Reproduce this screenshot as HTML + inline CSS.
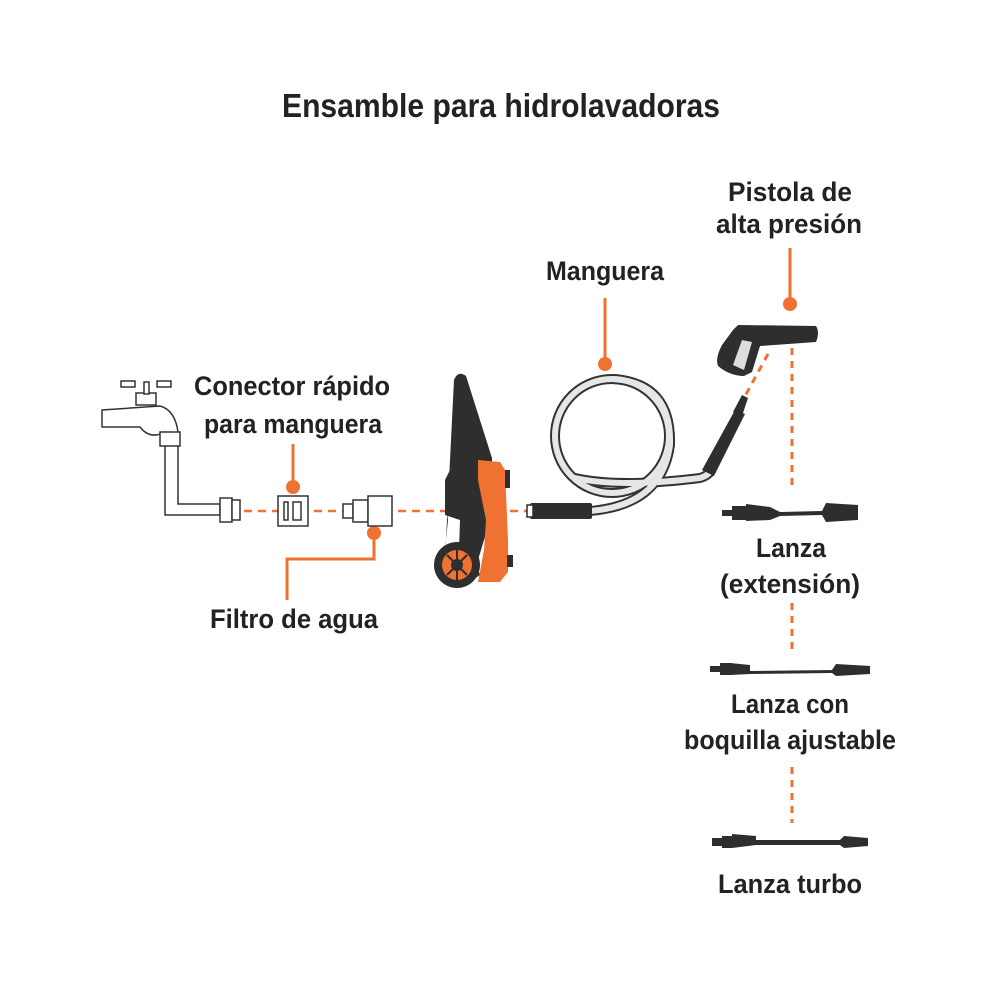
<!DOCTYPE html>
<html><head><meta charset="utf-8"><style>
html,body{margin:0;padding:0;background:#fff}
svg{display:block}
text{font-family:"Liberation Sans",sans-serif;font-weight:bold;fill:#222}
</style></head><body>
<svg width="1000" height="1000" viewBox="0 0 1000 1000" xmlns="http://www.w3.org/2000/svg">
<rect width="1000" height="1000" fill="#fff"/>
<text x="282" y="117" font-size="33" textLength="438" lengthAdjust="spacingAndGlyphs">Ensamble para hidrolavadoras</text>
<g font-size="27" text-anchor="middle">
<text x="790" y="201" textLength="124" lengthAdjust="spacingAndGlyphs">Pistola de</text>
<text x="789" y="233" textLength="146" lengthAdjust="spacingAndGlyphs">alta presión</text>
<text x="605" y="280" textLength="118" lengthAdjust="spacingAndGlyphs">Manguera</text>
<text x="292" y="395" textLength="196" lengthAdjust="spacingAndGlyphs">Conector rápido</text>
<text x="293" y="433" textLength="178" lengthAdjust="spacingAndGlyphs">para manguera</text>
<text x="294" y="628" textLength="168" lengthAdjust="spacingAndGlyphs">Filtro de agua</text>
<text x="791" y="557" textLength="70" lengthAdjust="spacingAndGlyphs">Lanza</text>
<text x="790" y="593" textLength="140" lengthAdjust="spacingAndGlyphs">(extensión)</text>
<text x="790" y="713" textLength="118" lengthAdjust="spacingAndGlyphs">Lanza con</text>
<text x="790" y="749" textLength="212" lengthAdjust="spacingAndGlyphs">boquilla ajustable</text>
<text x="790" y="893" textLength="144" lengthAdjust="spacingAndGlyphs">Lanza turbo</text>
</g>
<g stroke="#f07232" fill="none">
<line x1="244" y1="511" x2="545" y2="511" stroke-width="2.5" stroke-dasharray="8,6"/>
<line x1="792" y1="348" x2="792" y2="487" stroke-width="3" stroke-dasharray="7,6"/>
<line x1="792" y1="603" x2="792" y2="650" stroke-width="3" stroke-dasharray="7,6"/>
<line x1="792" y1="767" x2="792" y2="823" stroke-width="3" stroke-dasharray="7,6"/>
<line x1="768" y1="354" x2="744" y2="398" stroke-width="3" stroke-dasharray="7,6"/>
<line x1="605" y1="298" x2="605" y2="362" stroke-width="3"/>
<line x1="790" y1="248" x2="790" y2="302" stroke-width="3"/>
<line x1="293" y1="444" x2="293" y2="486" stroke-width="3"/>
<polyline points="374,533 374,559 287,559 287,600" stroke-width="3"/>
</g>
<g fill="#f07232">
<circle cx="605" cy="364" r="7"/><circle cx="790" cy="304" r="7"/>
<circle cx="293" cy="487" r="7"/><circle cx="374" cy="533" r="7"/>
</g>
<!-- faucet -->
<g fill="#fff" stroke="#333" stroke-width="1.5">
<path d="M102,410 L102,427 L140,427 Q150,440 165,432 L165,515 L220,515 L220,504 L178,504 L178,432 Q175,410 160,406 L102,410 Z"/>
<rect x="160" y="432" width="20" height="14"/>
<rect x="136" y="393" width="20" height="12"/>
<rect x="144" y="382" width="5" height="12"/>
<rect x="121" y="381" width="14" height="6"/><rect x="157" y="381" width="14" height="6"/>
<rect x="220" y="498" width="12" height="24"/>
<rect x="232" y="500" width="8" height="20"/>
<rect x="278" y="496" width="30" height="30"/>
<rect x="284" y="502" width="4" height="18"/><rect x="293" y="502" width="8" height="18"/>
<rect x="343" y="504" width="10" height="14"/>
<rect x="353" y="500" width="15" height="22"/>
<rect x="368" y="496" width="24" height="30"/>
</g>
<!-- pressure washer -->
<path d="M454,380 Q458,370 466,376 L492,458 L492,470 L480,470 Q470,480 464,470 L452,470 L445,490 L448,520 L445,550 L470,545 L480,575 L465,585 L445,560 Z" fill="#2e2e2e"/>
<path d="M452,466 L486,458 L490,520 L478,560 L470,580 L458,580 L460,520 L445,515 L445,480 Z" fill="#2e2e2e"/>
<path d="M478,460 L500,462 L505,470 L508,540 L508,572 L500,582 L478,582 L484,550 L486,520 L478,480 Z" fill="#f07232"/>
<rect x="505" y="470" width="5" height="18" fill="#2e2e2e"/>
<rect x="507" y="555" width="6" height="12" fill="#2e2e2e"/>
<circle cx="457" cy="565" r="23" fill="#2e2e2e"/>
<circle cx="457" cy="565" r="15" fill="#f07232"/>
<g stroke="#2e2e2e" stroke-width="2"><line x1="447" y1="555" x2="467" y2="575"/><line x1="467" y1="555" x2="447" y2="575"/><line x1="457" y1="550" x2="457" y2="580"/></g>
<circle cx="457" cy="565" r="6" fill="#2e2e2e"/>
<!-- hose -->
<g fill="none" stroke-linecap="round">
<g stroke="#333" stroke-width="10">
<circle cx="612" cy="436" r="57"/>
<path d="M612,379 Q672,382 670,445 Q662,505 590,511"/>
<path d="M575,478 Q620,488 700,478 Q710,475 712,468"/>
</g>
<g stroke="#e6e6e6" stroke-width="6">
<circle cx="612" cy="436" r="57"/>
<path d="M612,379 Q672,382 670,445 Q662,505 590,511"/>
<path d="M575,478 Q620,488 700,478 Q710,475 712,468"/>
</g>
</g>
<rect x="530" y="503" width="62" height="16" rx="2" fill="#2e2e2e"/>
<rect x="527" y="505" width="6" height="12" fill="#fff" stroke="#2e2e2e" stroke-width="1.5"/>
<path d="M702,470 L735,410 L745,414 L714,476 Z" fill="#2e2e2e"/>
<path d="M733,412 L742,395 L748,398 L742,416 Z" fill="#2e2e2e"/>
<!-- gun -->
<path d="M738,325 L816,326 Q820,332 816,342 L760,346 L752,372 L744,376 Q730,376 718,366 Q715,358 722,345 L733,330 Z" fill="#2e2e2e"/>
<path d="M742,340 L752,342 L744,370 L733,365 Z" fill="#ddd"/>
<!-- lanzas -->
<g fill="#2e2e2e">
<rect x="722" y="510" width="10" height="6"/><rect x="732" y="506" width="14" height="14"/>
<path d="M746,504 L770,507 L780,512 L822,511 L826,503 L858,505 L858,520 L826,522 L822,515 L780,516 L770,520 L746,521 Z"/>
<rect x="710" y="666" width="10" height="6"/><rect x="720" y="663" width="12" height="12"/>
<path d="M730,663 L750,665 L750,671 L832,670 L836,664 L870,666 L870,674 L836,676 L832,673 L750,674 L730,675 Z"/>
<rect x="712" y="838" width="10" height="8"/><rect x="722" y="836" width="10" height="12"/>
<path d="M732,834 L756,836 L756,840 L840,840 L844,836 L868,838 L868,846 L844,848 L840,845 L756,845 L732,848 Z"/>
</g>
</svg>
</body></html>
